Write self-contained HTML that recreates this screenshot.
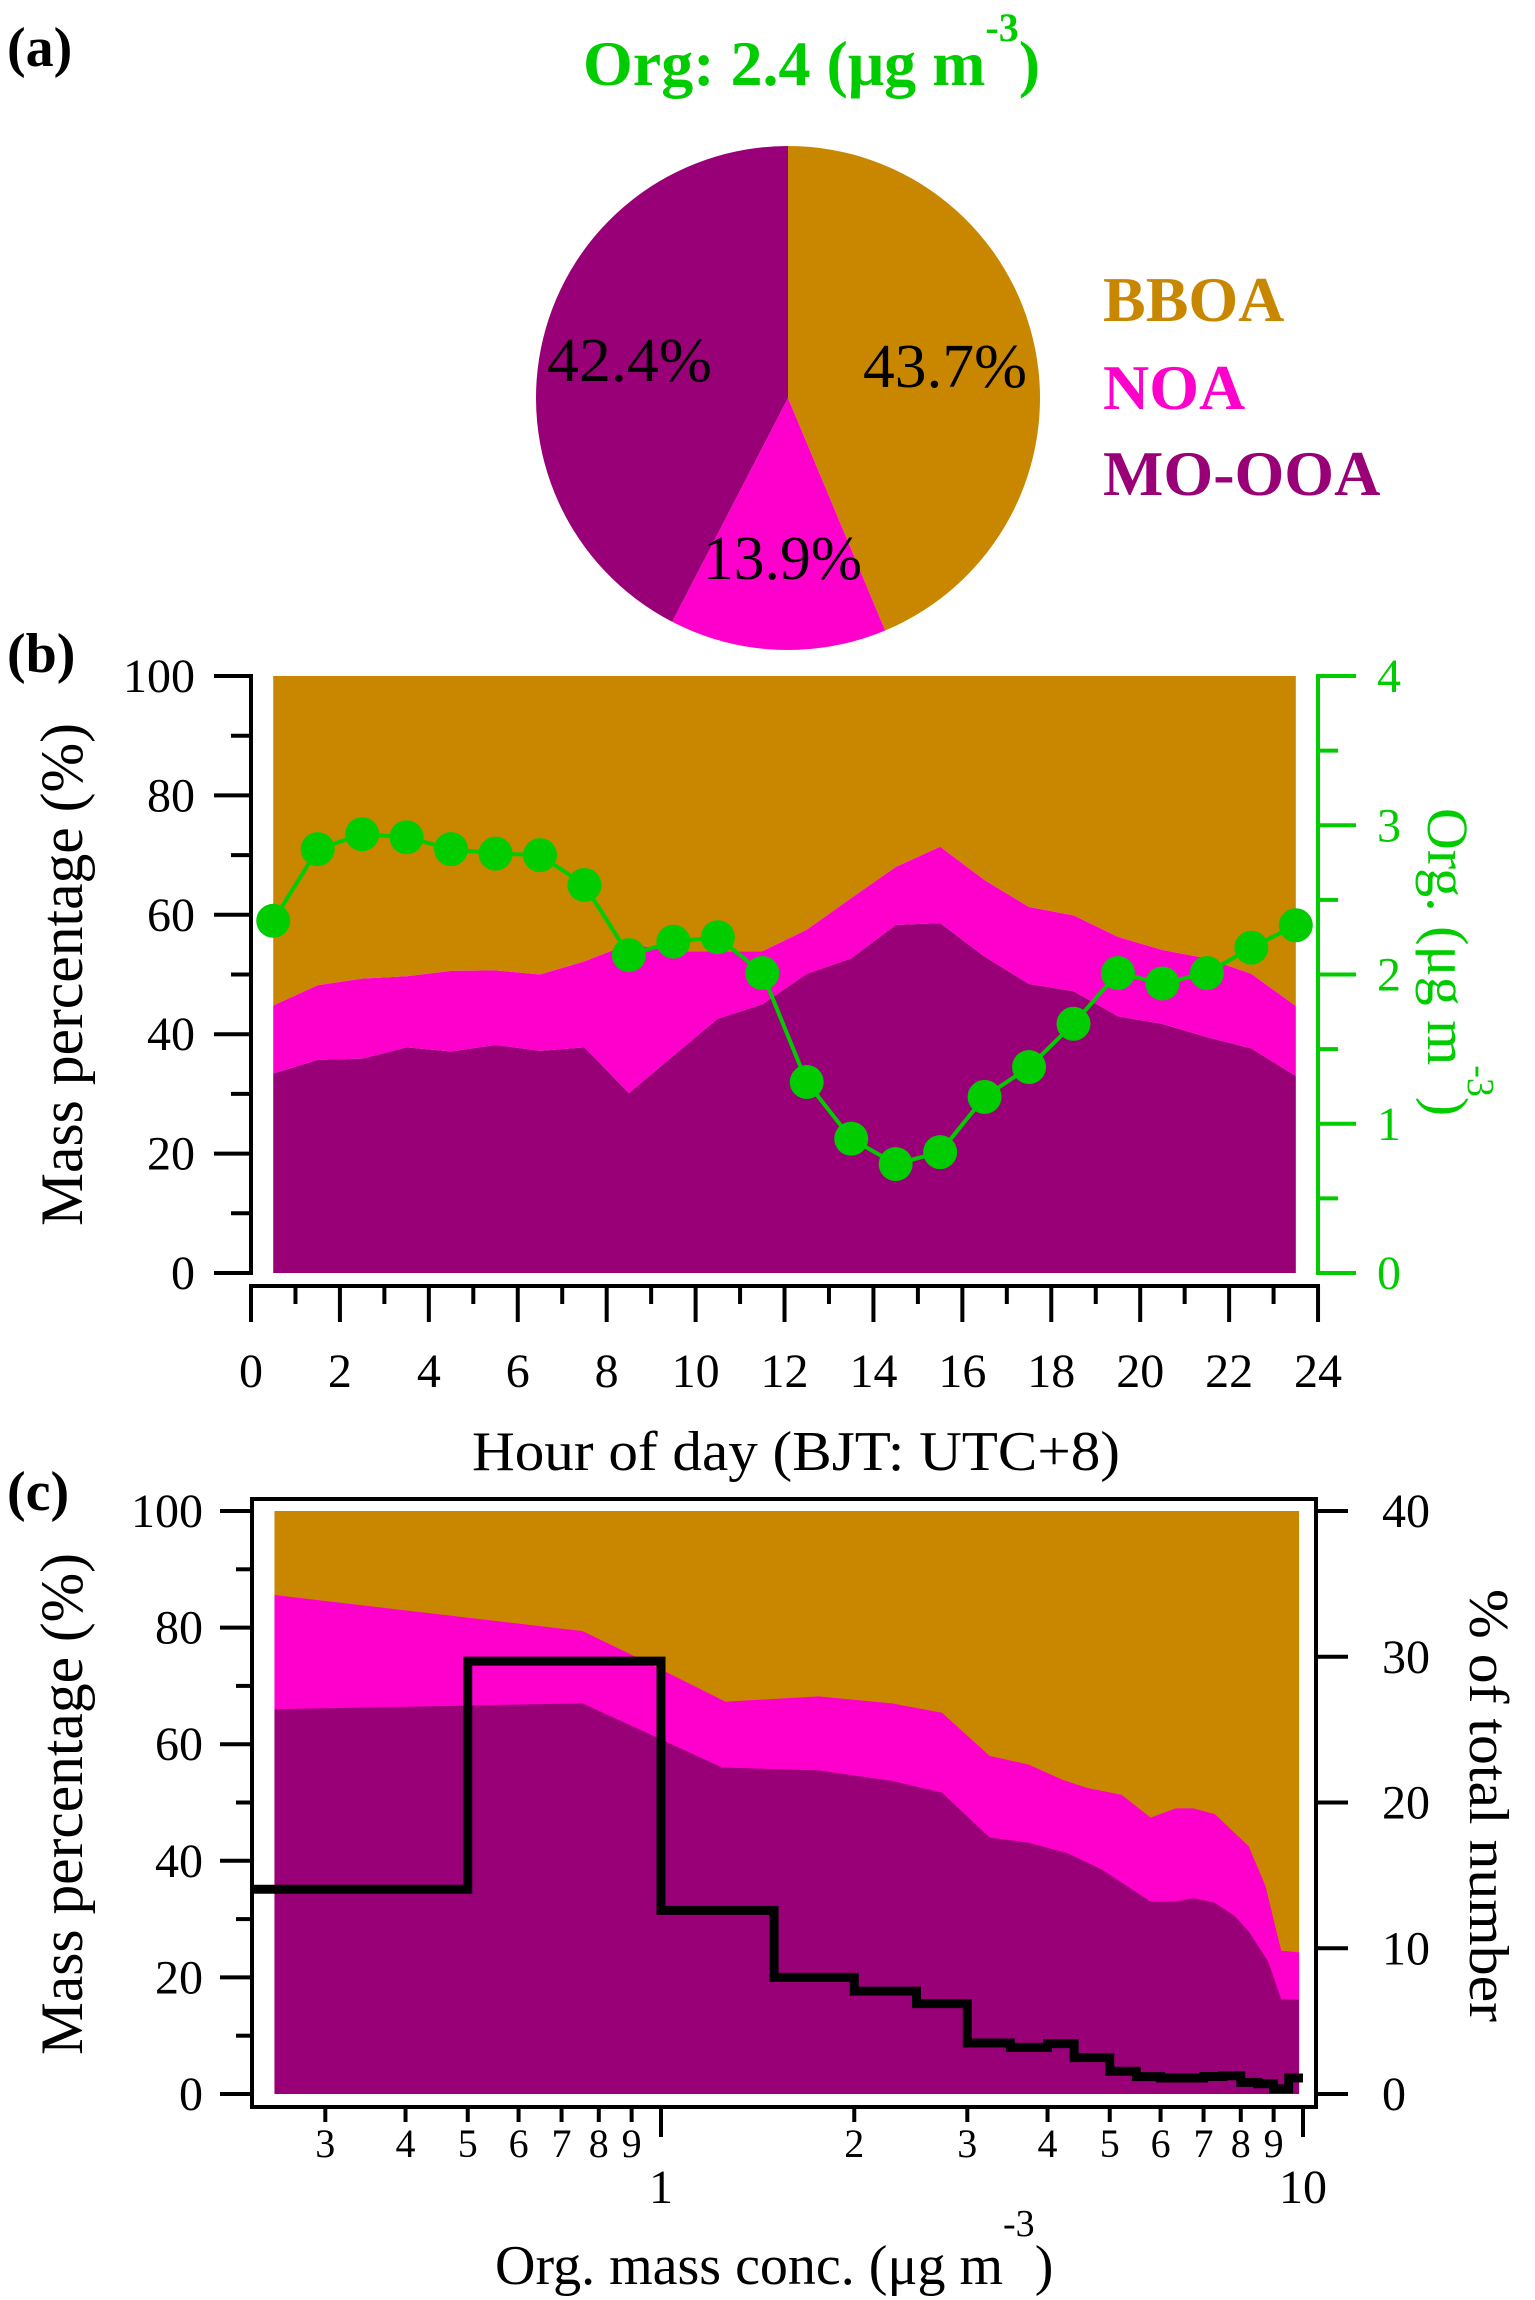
<!DOCTYPE html>
<html><head><meta charset="utf-8"><style>
html,body{margin:0;padding:0;background:#fff;}
svg{display:block;font-family:"Liberation Serif","DejaVu Serif",serif;}
</style></head><body>
<svg id="fig" xmlns="http://www.w3.org/2000/svg" width="1535" height="2300" viewBox="0 0 1535 2300">
<g id="pa"></g>
<g id="pb"></g>
<g id="pc"></g>
</svg>
<script>
// ---- Panel (a) pie data ----
const pieLabels = ["BBOA","NOA","MO-OOA"];
const pieValues = [43.7, 13.9, 42.4];
const orgMean = "2.4";
// ---- Panel (b) diurnal data ----
const hours = [0.5,1.5,2.5,3.5,4.5,5.5,6.5,7.5,8.5,9.5,10.5,11.5,12.5,13.5,14.5,15.5,16.5,17.5,18.5,19.5,20.5,21.5,22.5,23.5];
const moooaPct = [33.4,35.7,35.9,37.8,37.1,38.2,37.2,37.8,30.1,36.4,42.6,45,50.1,52.7,58.3,58.6,53,48.4,47.2,43,41.7,39.5,37.6,33];
const noaPct = [11.4,12.5,13.4,11.9,13.5,12.5,12.8,14.4,25,17.5,11.3,8.9,7.4,10.1,9.7,12.8,12.8,12.9,12.7,13.3,12.4,13.2,12.5,11.7];
const orgConc = [2.36,2.84,2.94,2.92,2.84,2.81,2.80,2.60,2.13,2.22,2.25,2.01,1.28,0.90,0.73,0.81,1.18,1.38,1.67,2.01,1.94,2.01,2.18,2.33];
const bXTicks = [0,2,4,6,8,10,12,14,16,18,20,22,24];
const bYTicks = [0,20,40,60,80,100];
const bY2Ticks = [0,1,2,3,4];
// ---- Panel (c) data ----
const cPurpleX = [0.25,0.755,1.02,1.245,1.76,2.29,2.74,3.25,3.74,4.30,4.86,5.79,6.33,6.75,7.29,7.83,8.23,8.83,9.25,9.86];
const cPurpleY = [66,67,60.4,56,55.5,53.7,51.7,44,43.1,41.3,38.5,33,33,33.6,32.8,30.5,27.9,22.7,16.2,16.2];
const cPinkX = [0.25,0.755,0.886,1.26,1.76,2.29,2.74,3.25,3.74,4.22,4.61,5.22,5.79,6.33,6.75,7.29,8.23,8.74,9.25,9.86];
const cPinkY = [85.6,79.4,75.7,67.3,68.2,67,65.4,58,56.5,53.9,52.5,51.3,47.4,49,49,48,42.5,35.7,24.6,24.3];
const stepEdges = [0.231,0.5,1.0,1.5,2.0,2.5,3.0,3.5,4.0,4.4,5.0,5.5,6.0,6.5,7.0,7.5,8.0,8.5,9.0,9.5,10.0];
const stepValues = [14.05,29.7,12.6,8.0,7.06,6.2,3.5,3.2,3.46,2.5,1.56,1.19,1.1,1.1,1.2,1.25,0.8,0.7,0.35,1.1];
const cYTicks = [0,20,40,60,80,100];
const cY2Ticks = [0,10,20,30,40];
const cXMinor = [0.3,0.4,0.5,0.6,0.7,0.8,0.9,2,3,4,5,6,7,8,9];
const cXMinorLabels = ["3","4","5","6","7","8","9","2","3","4","5","6","7","8","9"];
const cXMajor = [1,10];

const NS="http://www.w3.org/2000/svg";
const C_BB="#C98700", C_NOA="#FF00CC", C_MO="#990077", C_G="#00CC00";
function mk(parent,tag,attrs,text){const e=document.createElementNS(NS,tag);for(const k in attrs)e.setAttribute(k,attrs[k]);if(text!==undefined)e.textContent=text;parent.appendChild(e);return e;}

// ===== Panel A =====
const pa=document.getElementById('pa');
let t=mk(pa,'text',{x:7,y:66,'font-size':56,'font-weight':'bold',fill:'#000'},'(a)');


t=mk(pa,'text',{x:583,y:85,'font-size':64,'font-weight':'bold',fill:C_G});


mk(t,'tspan',{},'Org: '+orgMean+' (μg m');
mk(t,'tspan',{dy:-44,'font-size':40},'-3');
mk(t,'tspan',{dy:44},')');
const cx=788, cy=398, R=252;
const pieColors=[C_BB,C_NOA,C_MO];
const total=pieValues.reduce((a,b)=>a+b,0);
let ang=0;
const labelPos=[[863,387,164],[703,579,159],[547,381,165]];
pieValues.forEach((v,i)=>{
  const a0=ang, a1=ang+v/total*2*Math.PI; ang=a1;
  const x0=cx+R*Math.sin(a0), y0=cy-R*Math.cos(a0), x1=cx+R*Math.sin(a1), y1=cy-R*Math.cos(a1);
  const p=mk(pa,'path',{d:`M${cx},${cy}L${x0},${y0}A${R},${R} 0 ${(a1-a0)>Math.PI?1:0} 1 ${x1},${y1}Z`,fill:pieColors[i]});
  
  
});
pieValues.forEach((v,i)=>{
  const lp=labelPos[i];
  const l=mk(pa,'text',{x:lp[0],y:lp[1],'font-size':62,textLength:lp[2],lengthAdjust:'spacingAndGlyphs',fill:'#000'},v.toFixed(1)+'%');
  
  
});
const legY=[321,409,495];
pieLabels.forEach((n,i)=>{
  const l=mk(pa,'text',{x:1103,y:legY[i],'font-size':64,'font-weight':'bold',fill:pieColors[i]},n);
  
  
});

// ===== Panel B =====
const pb=document.getElementById('pb');
const bx=h=>251+h*44.46;
const by=p=>1273-p*5.97;
const by2=o=>1273-o*149.25;
t=mk(pb,'text',{x:7,y:672,'font-size':56,'font-weight':'bold'},'(b)');


function areaPath(xs,lo,hi,fx,fy){let d='M'+fx(xs[0])+','+fy(hi[0]);for(let i=1;i<xs.length;i++)d+='L'+fx(xs[i])+','+fy(hi[i]);for(let i=xs.length-1;i>=0;i--)d+='L'+fx(xs[i])+','+fy(lo[i]);return d+'Z';}
const zeros=hours.map(()=>0), hund=hours.map(()=>100);
const noaTop=hours.map((_,i)=>moooaPct[i]+noaPct[i]);
let e=mk(pb,'path',{d:areaPath(hours,noaTop,hund,bx,by),fill:C_BB});


e=mk(pb,'path',{d:areaPath(hours,moooaPct,noaTop,bx,by),fill:C_NOA});


e=mk(pb,'path',{d:areaPath(hours,zeros,moooaPct,bx,by),fill:C_MO});


// left axis
e=mk(pb,'line',{x1:251,y1:by(100)-2,x2:251,y2:by(0)+2,stroke:'#000','stroke-width':4});


for(let v=0;v<=100;v+=10){mk(pb,'line',{x1:v%20===0?214:231,y1:by(v),x2:251,y2:by(v),stroke:'#000','stroke-width':4});}
bYTicks.forEach(v=>{const l=mk(pb,'text',{x:195,y:by(v)+16,'font-size':48,'text-anchor':'end'},String(v));
  
  });
// right axis
e=mk(pb,'line',{x1:1318,y1:by2(4)-2,x2:1318,y2:by2(0)+2,stroke:C_G,'stroke-width':4});


for(let v=0;v<=4;v+=0.5){mk(pb,'line',{x1:1318,y1:by2(v),x2:v%1===0?1356:1338,y2:by2(v),stroke:C_G,'stroke-width':4});}
bY2Ticks.forEach(v=>{const l=mk(pb,'text',{x:1377,y:by2(v)+16,'font-size':48,fill:C_G},String(v));
  
  });
// x axis
e=mk(pb,'line',{x1:249,y1:1286,x2:1320,y2:1286,stroke:'#000','stroke-width':4});


for(let h=0;h<=24;h++){mk(pb,'line',{x1:bx(h),y1:1286,x2:bx(h),y2:h%2===0?1322:1304,stroke:'#000','stroke-width':4});}
bXTicks.forEach(h=>{const l=mk(pb,'text',{x:bx(h),y:1387,'font-size':48,'text-anchor':'middle'},String(h));
  
  });
t=mk(pb,'text',{x:472,y:1470,'font-size':56,textLength:648,lengthAdjust:'spacingAndGlyphs'},'Hour of day (BJT: UTC+8)');


t=mk(pb,'text',{x:82,y:1226,'font-size':60,transform:'rotate(-90 82 1226)',textLength:503,lengthAdjust:'spacingAndGlyphs'},'Mass percentage (%)');


t=mk(pb,'text',{x:1428,y:808,'font-size':58,fill:C_G,transform:'rotate(90 1428 808)'});


mk(t,'tspan',{},'Org. (μg m');
mk(t,'tspan',{dy:-40,'font-size':38},'-3');
mk(t,'tspan',{dy:40},')');
// org line
let d='';hours.forEach((h,i)=>{d+=(i?'L':'M')+bx(h)+','+by2(orgConc[i]);});
e=mk(pb,'path',{d:d,fill:'none',stroke:C_G,'stroke-width':4});


hours.forEach((h,i)=>{const c=mk(pb,'circle',{cx:bx(h),cy:by2(orgConc[i]),r:17,fill:C_G});
  
  });

// ===== Panel C =====
const pc=document.getElementById('pc');
const cxf=v=>661+642*Math.log10(v);
const cyf=p=>2094-p*5.83;
const cy2=p=>2094-p*14.575;
t=mk(pc,'text',{x:7,y:1510,'font-size':56,'font-weight':'bold'},'(c)');


e=mk(pc,'rect',{x:cxf(0.25),y:cyf(100),width:cxf(9.86)-cxf(0.25),height:cyf(0)-cyf(100),fill:C_BB});


function polyArea(xs,ys){let d='M'+cxf(xs[0])+','+cyf(0);xs.forEach((x,i)=>{d+='L'+cxf(x)+','+cyf(ys[i]);});return d+'L'+cxf(xs[xs.length-1])+','+cyf(0)+'Z';}
e=mk(pc,'path',{d:polyArea(cPinkX,cPinkY),fill:C_NOA});


e=mk(pc,'path',{d:polyArea(cPurpleX,cPurpleY),fill:C_MO});


e=mk(pc,'rect',{x:252,y:1499,width:1064,height:608,fill:'none',stroke:'#000','stroke-width':4});


for(let v=0;v<=100;v+=10){mk(pc,'line',{x1:v%20===0?220:236,y1:cyf(v),x2:252,y2:cyf(v),stroke:'#000','stroke-width':4});}
cYTicks.forEach(v=>{const l=mk(pc,'text',{x:203,y:cyf(v)+16,'font-size':48,'text-anchor':'end'},String(v));
  
  });
cY2Ticks.forEach(v=>{mk(pc,'line',{x1:1316,y1:cy2(v),x2:1348,y2:cy2(v),stroke:'#000','stroke-width':4});
  const l=mk(pc,'text',{x:1382,y:cy2(v)+16,'font-size':48},String(v));
  
  });
cXMinor.forEach((v,i)=>{const xx=cxf(v);
  mk(pc,'line',{x1:xx,y1:2107,x2:xx,y2:2122,stroke:'#000','stroke-width':4});
  const l=mk(pc,'text',{x:xx,y:2157,'font-size':40,'text-anchor':'middle'},cXMinorLabels[i]);
  
  });
cXMajor.forEach(v=>{const xx=cxf(v);
  mk(pc,'line',{x1:xx,y1:2107,x2:xx,y2:2137,stroke:'#000','stroke-width':4});
  const l=mk(pc,'text',{x:xx,y:2203,'font-size':48,'text-anchor':'middle'},String(v));
  
  });
// step line
d='';stepValues.forEach((v,i)=>{const x0=Math.max(cxf(stepEdges[i]),254),x1=cxf(stepEdges[i+1]);d+=(i?'L':'M')+x0+','+cy2(v)+'L'+x1+','+cy2(v);});
e=mk(pc,'path',{d:d,fill:'none',stroke:'#000','stroke-width':9});


t=mk(pc,'text',{x:495,y:2284,'font-size':56});


mk(t,'tspan',{},'Org. mass conc. (μg m');
mk(t,'tspan',{dy:-48,'font-size':38},'-3');
mk(t,'tspan',{dy:48},')');
t=mk(pc,'text',{x:82,y:2055,'font-size':60,transform:'rotate(-90 82 2055)',textLength:502,lengthAdjust:'spacingAndGlyphs'},'Mass percentage (%)');


t=mk(pc,'text',{x:1470,y:1589,'font-size':56,transform:'rotate(90 1470 1589)',textLength:433,lengthAdjust:'spacingAndGlyphs'},'% of total number');


</script>
</body></html>
